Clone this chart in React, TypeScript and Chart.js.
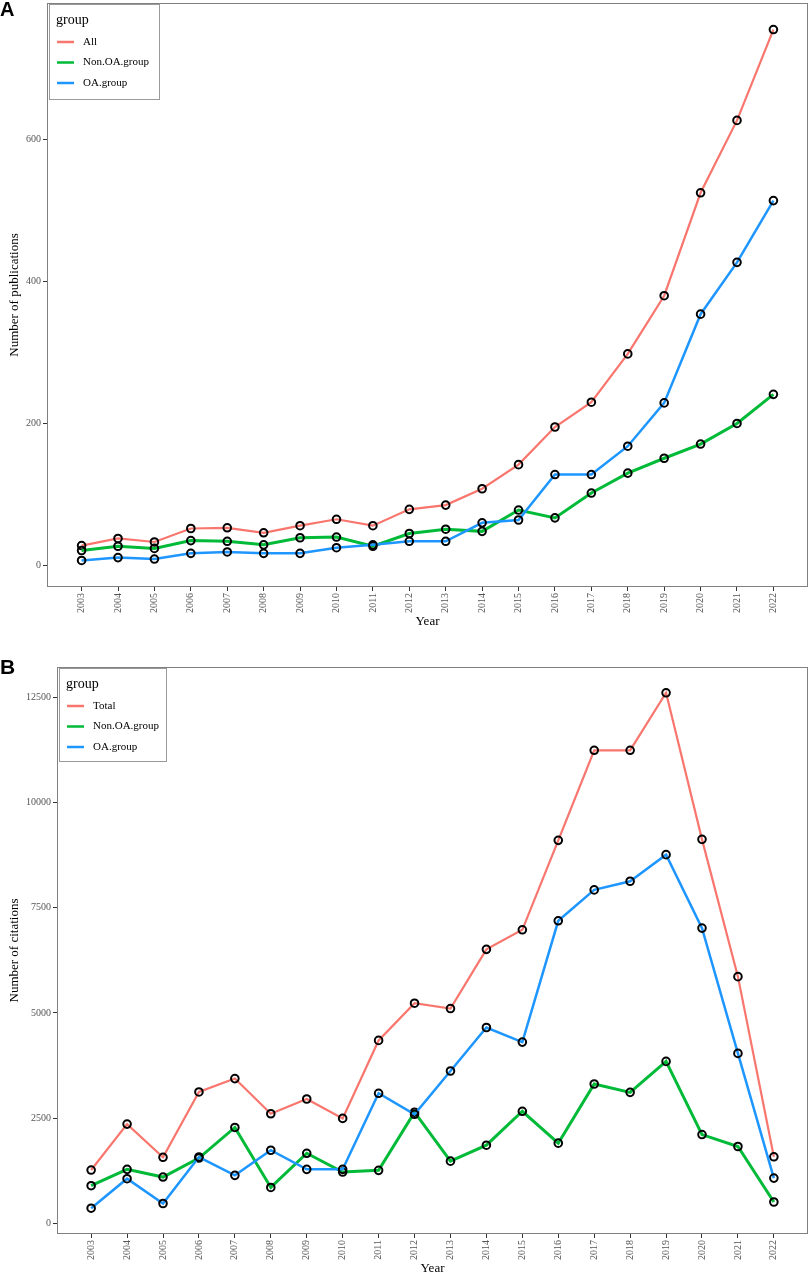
import { useEffect, useRef } from 'react';
import Chart from 'chart.js/auto';

const years = [2003, 2004, 2005, 2006, 2007, 2008, 2009, 2010, 2011, 2012, 2013, 2014, 2015, 2016, 2017, 2018, 2019, 2020, 2021, 2022];

// panel A: publications
const pubAll = [28, 38, 33, 52, 53, 46, 56, 65, 56, 79, 85, 108, 142, 195, 230, 298, 380, 525, 627, 755];
const pubNonOA = [21, 27, 24, 35, 34, 29, 39, 40, 27, 45, 51, 48, 78, 67, 102, 130, 151, 171, 200, 241];
const pubOA = [7, 11, 9, 17, 19, 17, 17, 25, 29, 34, 34, 60, 64, 128, 128, 168, 229, 354, 427, 514];
const pubTicks = [0, 200, 400, 600];

// panel B: citations
const citeTotal = [1266, 2357, 1569, 3121, 3439, 2603, 2954, 2493, 4346, 5231, 5103, 6510, 6975, 9101, 11241, 11241, 12608, 9124, 5862, 1580];
const citeNonOA = [893, 1282, 1099, 1550, 2278, 852, 1664, 1218, 1258, 2640, 1477, 1856, 2662, 1904, 3310, 3112, 3847, 2109, 1825, 506];
const citeOA = [358, 1060, 470, 1575, 1139, 1736, 1282, 1282, 3090, 2590, 3619, 4653, 4306, 7189, 7923, 8129, 8761, 7015, 4037, 1074];
const citeTicks = [0, 2500, 5000, 7500, 10000, 12500];

const RED = '#F8766D';
const GREEN = '#00BA38';
const BLUE = '#1E96FF';

const SERIF = '"Liberation Serif", "DejaVu Serif", serif';

interface Series {
  label: string;
  data: number[];
  color: string;
  width: number;
}

interface PanelProps {
  top: number;
  height: number;
  series: Series[];
  yTicks: number[];
  yTitle: string;
  padTop: number;
  yWidth: number;
  xHeight: number;
  xTitlePad: number;
  legendW: number;
  legendH: number;
}

// panel border + legend inside the top-left corner, ggplot style
const panelPlugin = {
  id: 'panelDeco',
  afterDatasetsDraw(chart: any, _args: any, opts: any) {
    const { ctx, chartArea: a } = chart;
    ctx.save();
    ctx.strokeStyle = '#808080';
    ctx.lineWidth = 1;
    ctx.strokeRect(a.left + 0.5, a.top + 0.5, a.right - a.left - 1, a.bottom - a.top - 1);

    const lx = a.left + 2;
    const ly = a.top + 1;
    ctx.fillStyle = '#fff';
    ctx.fillRect(lx, ly, opts.w, opts.h);
    ctx.strokeStyle = '#9a9a9a';
    ctx.strokeRect(lx + 0.5, ly + 0.5, opts.w, opts.h);

    ctx.fillStyle = '#000';
    ctx.textBaseline = 'middle';
    ctx.textAlign = 'left';
    ctx.font = '14px ' + SERIF;
    ctx.fillText('group', lx + 7, ly + 16);

    ctx.font = '11px ' + SERIF;
    chart.data.datasets.forEach((ds: any, i: number) => {
      const y = ly + 38 + i * 20.5;
      ctx.strokeStyle = ds.borderColor;
      ctx.lineWidth = 2.5;
      ctx.beginPath();
      ctx.moveTo(lx + 8, y);
      ctx.lineTo(lx + 25, y);
      ctx.stroke();
      ctx.fillStyle = '#000';
      ctx.fillText(ds.label, lx + 34, y);
    });
    ctx.restore();
  },
};

// keep the chart area exactly where the layout props put it
function noPadding(scale: any) {
  scale.paddingTop = 0;
  scale.paddingBottom = 0;
  scale.paddingLeft = 0;
  scale.paddingRight = 0;
}

function Panel(props: PanelProps) {
  const canvasRef = useRef<HTMLCanvasElement>(null);

  useEffect(() => {
    if (!canvasRef.current) return;

    const allVals = props.series.flatMap((s) => s.data);
    const lo = Math.min(...allVals);
    const hi = Math.max(...allVals);
    const pad = (hi - lo) * 0.05;
    const xPad = (years[years.length - 1] - years[0]) * 0.05;

    const tickFont = { family: SERIF, size: 10 };
    const titleFont = { family: SERIF, size: 13 };

    const chart = new Chart(canvasRef.current, {
      type: 'line',
      data: {
        datasets: props.series.map((s, i) => ({
          label: s.label,
          data: years.map((yr, j) => ({ x: yr, y: s.data[j] })),
          borderColor: s.color,
          borderWidth: s.width,
          backgroundColor: s.color,
          pointRadius: 3.8,
          pointBorderWidth: 2,
          pointBorderColor: '#000',
          pointBackgroundColor: 'rgba(0,0,0,0)',
          tension: 0,
          order: props.series.length - i,
        })),
      },
      options: {
        animation: false,
        responsive: true,
        maintainAspectRatio: false,
        layout: { autoPadding: false, padding: { left: 0, right: 1, top: props.padTop, bottom: 0 } },
        plugins: {
          legend: { display: false },
          tooltip: { enabled: false },
          panelDeco: { w: props.legendW, h: props.legendH },
        } as any,
        scales: {
          x: {
            type: 'linear',
            min: years[0] - xPad,
            max: years[years.length - 1] + xPad,
            afterBuildTicks: (scale: any) => {
              scale.ticks = years.map((v) => ({ value: v }));
            },
            afterFit: (scale: any) => {
              scale.height = props.xHeight;
              noPadding(scale);
            },
            ticks: {
              autoSkip: false,
              minRotation: 90,
              maxRotation: 90,
              padding: 2,
              color: '#555',
              font: tickFont,
              callback: (v: any) => String(v),
            },
            grid: { drawOnChartArea: false, drawTicks: true, tickLength: 4, color: '#333' },
            border: { display: false },
            title: {
              display: true,
              text: 'Year',
              color: '#000',
              font: titleFont,
              padding: { top: 0, bottom: props.xTitlePad },
            },
          },
          y: {
            type: 'linear',
            min: lo - pad,
            max: hi + pad,
            afterBuildTicks: (scale: any) => {
              scale.ticks = props.yTicks.map((v) => ({ value: v }));
            },
            afterFit: (scale: any) => {
              scale.width = props.yWidth;
              noPadding(scale);
            },
            ticks: {
              padding: 2,
              color: '#555',
              font: tickFont,
              callback: (v: any) => String(v),
            },
            grid: { drawOnChartArea: false, drawTicks: true, tickLength: 4, color: '#333' },
            border: { display: false },
            title: {
              display: true,
              text: props.yTitle,
              color: '#000',
              font: titleFont,
              padding: { top: 7, bottom: 0 },
            },
          },
        },
      },
      plugins: [panelPlugin],
    } as any);

    return () => chart.destroy();
  }, []);

  return (
    <div style={{ position: 'absolute', left: 0, top: props.top, width: 809, height: props.height }}>
      <canvas ref={canvasRef} />
    </div>
  );
}

const labelStyle = {
  position: 'absolute' as const,
  left: 0,
  fontFamily: '"Liberation Sans", Arial, sans-serif',
  fontWeight: 'bold' as const,
  lineHeight: 1,
  color: '#000',
};

export default function App() {
  return (
    <div style={{ position: 'absolute', left: 0, top: 0, width: 809, height: 1273, overflow: 'hidden', background: '#fff' }}>
      <Panel
        top={0}
        height={636}
        series={[
          { label: 'All', data: pubAll, color: RED, width: 2.2 },
          { label: 'Non.OA.group', data: pubNonOA, color: GREEN, width: 3 },
          { label: 'OA.group', data: pubOA, color: BLUE, width: 2.5 },
        ]}
        yTicks={pubTicks}
        yTitle="Number of publications"
        padTop={3}
        yWidth={47}
        xHeight={49}
        xTitlePad={6.5}
        legendW={110}
        legendH={95}
      />
      <Panel
        top={636}
        height={645}
        series={[
          { label: 'Total', data: citeTotal, color: RED, width: 2.2 },
          { label: 'Non.OA.group', data: citeNonOA, color: GREEN, width: 3 },
          { label: 'OA.group', data: citeOA, color: BLUE, width: 2.5 },
        ]}
        yTicks={citeTicks}
        yTitle="Number of citations"
        padTop={31}
        yWidth={57}
        xHeight={47}
        xTitlePad={5}
        legendW={107}
        legendH={93}
      />
      <div style={{ ...labelStyle, top: -1, fontSize: 20 }}>A</div>
      <div style={{ ...labelStyle, top: 656, fontSize: 21 }}>B</div>
    </div>
  );
}
